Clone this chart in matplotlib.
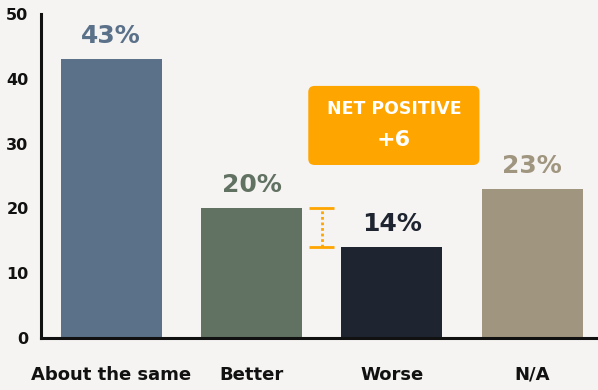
import matplotlib.pyplot as plt
from matplotlib.patches import FancyBboxPatch

categories = ["About the same", "Better", "Worse", "N/A"]
values = [43, 20, 14, 23]
colors = ["#5a7189", "#627262", "#1e2530", "#a0957f"]
net_label = "NET POSITIVE"
net_value = values[1] - values[2]

bg = "#f5f4f2"
orange = "#ffa500"

fig = plt.figure(figsize=(5.98, 3.90), dpi=100, facecolor=bg)
ax = fig.add_axes([41 / 598, 52 / 390, 1 - 41 / 598, 324 / 390])
ax.set_facecolor(bg)
plt.rcParams['font.family'] = ['DejaVu Sans']

x = range(len(categories))
ax.bar(x, values, width=0.72, color=colors, zorder=2)

# percentage labels above each bar, same colour as the bar
for i, v in enumerate(values):
    ax.annotate(f"{v}%", (i, v), xytext=(0, 8), textcoords="offset points",
                ha="center", va="bottom", fontsize=18, fontweight="heavy",
                color=colors[i])

ax.set_xlim(-0.5, 3.47)
ax.set_ylim(0, 50)
ax.set_yticks([0, 10, 20, 30, 40, 50])
ax.set_xticks(list(x))
ax.set_xticklabels(categories)
ax.tick_params(axis="y", length=0, pad=9, labelsize=11.5, labelcolor="#111111")
ax.tick_params(axis="x", length=0, pad=20, labelsize=13, labelcolor="#111111")
for lbl in ax.get_xticklabels() + ax.get_yticklabels():
    lbl.set_fontweight("bold")

for s in ["top", "right"]:
    ax.spines[s].set_visible(False)
for s in ["left", "bottom"]:
    ax.spines[s].set_linewidth(2.2)
    ax.spines[s].set_color("#111111")
    ax.spines[s].set_zorder(3)

# bracket showing the gap between Better and Worse
bx, bw = 1.5, 0.09
ax.plot([bx - bw, bx + bw], [values[1], values[1]], color=orange, lw=2, solid_capstyle="butt")
ax.plot([bx - bw, bx + bw], [values[2], values[2]], color=orange, lw=2, solid_capstyle="butt")
ax.plot([bx, bx], [values[2], values[1]], color=orange, lw=2, linestyle=(0, (1, 1)))

# net positive callout
box = FancyBboxPatch((1.405, 26.7), 1.22, 12.2, boxstyle="round,pad=0,rounding_size=0.045",
                     mutation_aspect=21, facecolor=orange, edgecolor="none", zorder=4)
ax.add_patch(box)
ax.text(2.015, 35.3, net_label, ha="center", va="center", color="white",
        fontsize=12.5, fontweight="bold", zorder=5)
ax.text(2.015, 30.6, f"+{net_value}", ha="center", va="center", color="white",
        fontsize=16, fontweight="bold", zorder=5)

fig.savefig("out.png", dpi=100, facecolor=bg)
